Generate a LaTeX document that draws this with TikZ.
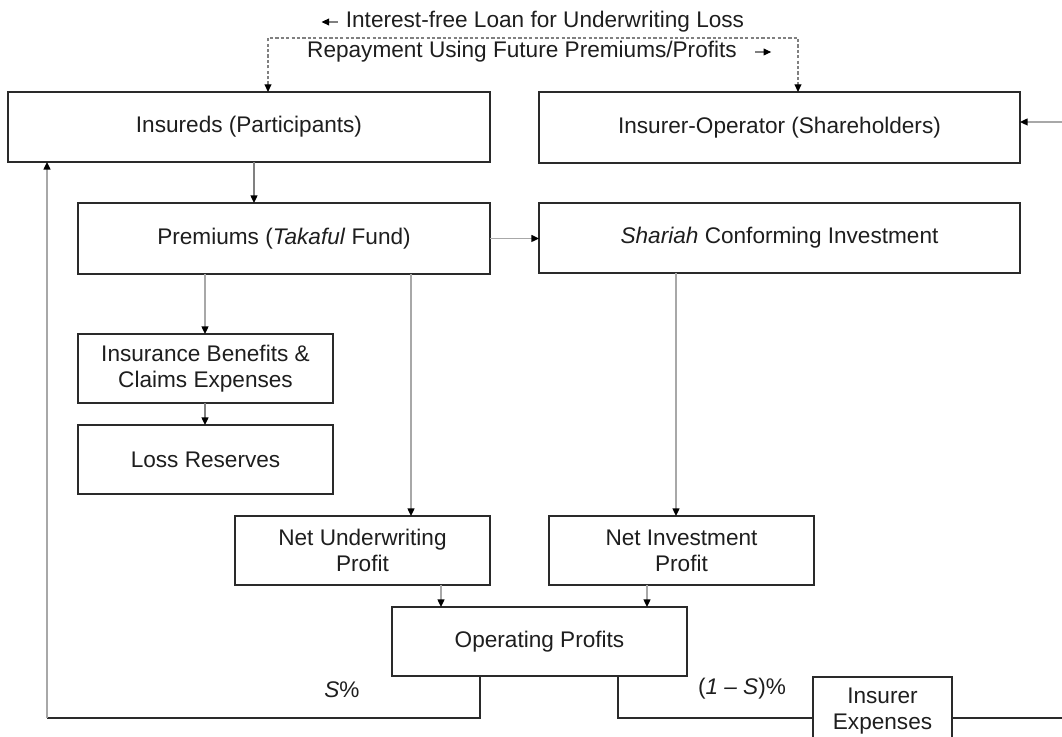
\documentclass[tikz,border=0pt]{standalone}
\usepackage{fontspec}
\setmainfont{Liberation Sans}
\usetikzlibrary{arrows.meta}
\definecolor{linegray}{HTML}{A8A8A8}
\definecolor{boxline}{HTML}{2A2A2A}
\definecolor{txt}{HTML}{1E1E1E}
\begin{document}
\begin{tikzpicture}[x=0.5pt,y=-0.5pt,
  font=\fontsize{11.3}{13}\selectfont, text=txt,
  box/.style={draw=boxline, line width=0.7pt, inner sep=0pt, outer sep=0pt, align=center},
  tip/.style={-{Triangle[length=3.8pt,width=3.4pt,color=black]}},
  conn/.style={draw=linegray, line width=0.85pt, tip},
  darkline/.style={draw=boxline, line width=0.7pt},
  dashconn/.style={draw=gray, line width=0.6pt, dash pattern=on 1.6pt off 1.1pt,
     {Triangle[length=3.8pt,width=3.4pt,color=black]}-{Triangle[length=3.8pt,width=3.4pt,color=black]}},
  lbl/.style={inner sep=0pt}]
\clip (0,0) rectangle (1062,737);
\fill[white] (0,0) rectangle (1062,737);

% boxes
\node[box, minimum width=241pt, minimum height=35pt] (ins) at (249,127) {Insureds (Participants)};
\node[box, minimum width=240.5pt, minimum height=35.5pt] (io) at (779.5,127.5) {Insurer-Operator (Shareholders)};
\node[box, minimum width=206pt, minimum height=35.5pt] (prem) at (284,238.5) {Premiums (\textit{Takaful} Fund)};
\node[box, minimum width=240.5pt, minimum height=35pt] (shar) at (779.5,238) {\textit{Shariah} Conforming Investment};
\node[box, minimum width=127.5pt, minimum height=34.5pt] (ben) at (205.5,368.5) {Insurance Benefits \&\\Claims Expenses};
\node[box, minimum width=127.5pt, minimum height=34.5pt] (loss) at (205.5,459.5) {Loss Reserves};
\node[box, minimum width=127.5pt, minimum height=34.5pt] (nup) at (362.5,550.5) {Net Underwriting\\Profit};
\node[box, minimum width=132.5pt, minimum height=34.5pt] (nip) at (681.5,550.5) {Net Investment\\Profit};
\node[box, minimum width=147.5pt, minimum height=34.5pt] (op) at (539.5,641.5) {Operating Profits};
\node[box, minimum width=69.5pt, minimum height=34pt] (exp) at (882.5,711) {Insurer\\Expenses};

% top labels
\node[lbl] (l1) at (545,22) {Interest-free Loan for Underwriting Loss};
\node[lbl] (l2) at (522,52) {Repayment Using Future Premiums/Profits};
\draw[conn, draw=gray, line width=0.6pt] ([xshift=-4pt]l1.west) -- ++(-8pt,0);
\draw[conn, draw=gray, line width=0.6pt] ([xshift=9pt]l2.east) -- ++(8pt,0);

% dashed loan/repayment connector
\coordinate (dl) at (268,38);
\coordinate (dr) at (798,38);
\draw[dashconn] (ins.north -| dl) -- (dl) -- (dr) -- (io.north -| dr);

% main connectors
\draw[conn, draw=gray] (ins.south -| 254,0) -- (prem.north -| 254,0);
\draw[conn] (prem.east) -- (shar.west |- prem.east);
\draw[conn] (prem.south -| 205,0) -- (ben.north -| 205,0);
\draw[conn, draw=gray] (ben.south -| 205,0) -- (loss.north -| 205,0);
\draw[conn] (prem.south -| 411,0) -- (nup.north -| 411,0);
\draw[conn] (shar.south -| 676,0) -- (nip.north -| 676,0);
\draw[conn] (nup.south -| 441,0) -- (op.north -| 441,0);
\draw[conn] (nip.south -| 647,0) -- (op.north -| 647,0);

% right incoming arrow
\coordinate (rin) at (1062,122);
\draw[conn] (rin) -- (io.east |- rin);

% profit split
\coordinate (cl) at (47,718);
\coordinate (cr) at (1062,718);
\draw[darkline] (op.south -| 480,0) |- (cl);
\draw[conn] (cl) -- (ins.south -| cl);
\draw[darkline] (op.south -| 618,0) |- (exp.west |- cr);
\draw[darkline] (exp.east |- cr) -- (cr);

\node[lbl] (sp) at (342,690) {\textit{S}\%};
\node[lbl] (osp) at (742,689) {(\textit{1 – S})\%};
\end{tikzpicture}
\end{document}
